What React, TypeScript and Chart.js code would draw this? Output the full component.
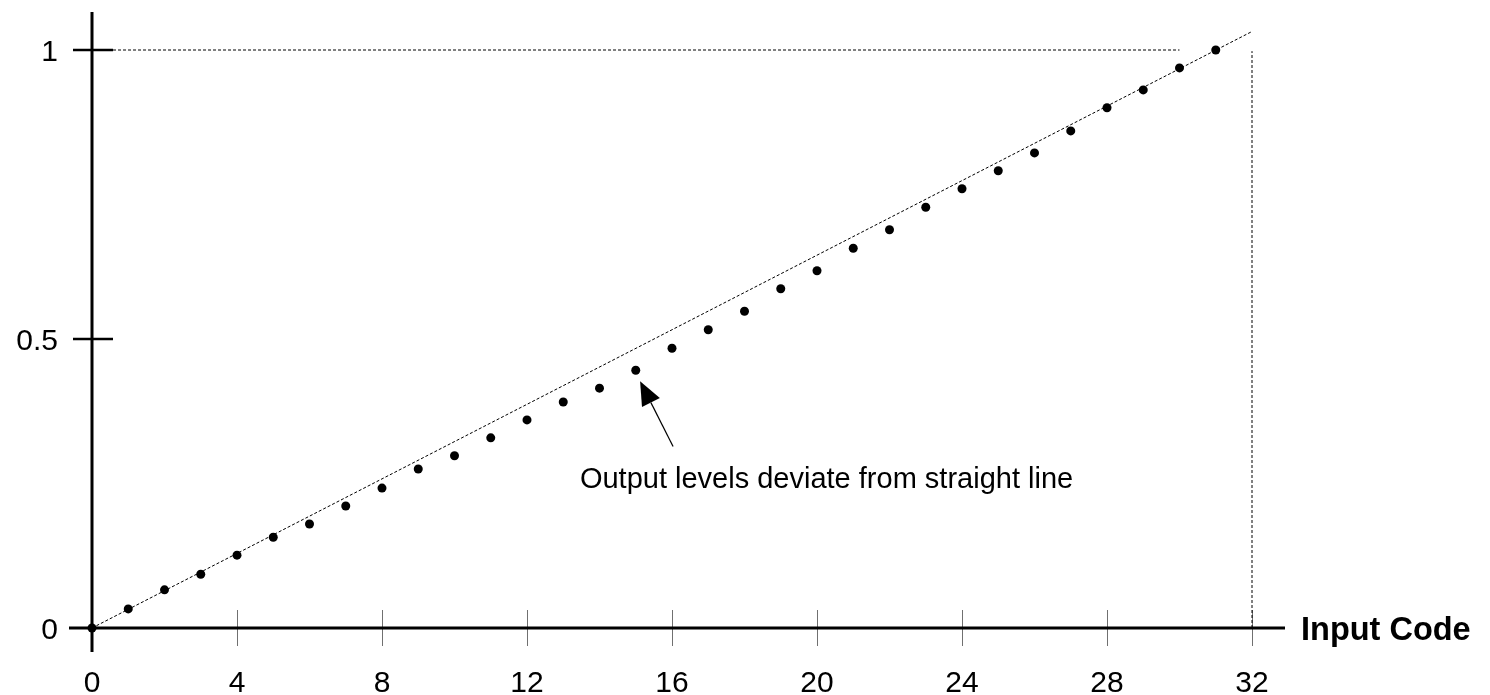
import React, { useEffect, useRef } from "react";
import { Chart, registerables } from "chart.js";

Chart.register(...registerables);

// Data
const inputCodes = [
  0, 1, 2, 3, 4, 5, 6, 7, 8, 9, 10, 11, 12, 13, 14, 15,
  16, 17, 18, 19, 20, 21, 22, 23, 24, 25, 26, 27, 28, 29, 30, 31,
];
const outputLevels = [
  0, 0.033, 0.066, 0.093, 0.126, 0.157, 0.18, 0.211, 0.242, 0.275, 0.298, 0.329,
  0.36, 0.391, 0.415, 0.446, 0.484, 0.516, 0.548, 0.587, 0.618, 0.657, 0.689,
  0.728, 0.76, 0.791, 0.822, 0.86, 0.9, 0.931, 0.969, 1.0,
];
// Ideal straight line (endpoints)
const idealX = [0, 32];
const idealY = [0, 1.032];
// Full-scale reference lines
const fullScaleX = [0.58, 30.0];
const fullScaleY = [1, 1];
const endCodeX = [32, 32];
const endCodeY = [0, 0.998];

const xTickLabels = ["0", "4", "8", "12", "16", "20", "24", "28", "32"];
const yTickValues = [0, 0.5, 1];
const yTickLabels = ["0", "0.5", "1"];
const xAxisTitle = "Input Code";
const annotationText = "Output levels deviate from straight line";

const FONT = '"Liberation Sans", Arial, Helvetica, sans-serif';

const axesPlugin = {
  id: "customAxes",
  beforeDatasetsDraw(chart: any) {
    const ctx = chart.ctx as CanvasRenderingContext2D;
    const xs = chart.scales.x;
    const ys = chart.scales.y;
    const x0 = xs.getPixelForValue(0);
    const y0 = ys.getPixelForValue(0);
    ctx.save();

    // x tick marks (thin grey, crossing the axis)
    ctx.strokeStyle = "#707070";
    ctx.lineWidth = 1;
    xTickLabels.forEach((lab) => {
      const v = Number(lab);
      if (v === 0) return;
      const px = Math.round(xs.getPixelForValue(v)) + 0.5;
      ctx.beginPath();
      ctx.moveTo(px, y0 - 18);
      ctx.lineTo(px, y0 + 18);
      ctx.stroke();
    });

    // y tick marks (thick black)
    ctx.strokeStyle = "#000";
    ctx.lineWidth = 2.5;
    yTickValues.forEach((v) => {
      if (v === 0) return;
      const py = ys.getPixelForValue(v);
      ctx.beginPath();
      ctx.moveTo(x0 - 19, py);
      ctx.lineTo(x0 + 21, py);
      ctx.stroke();
    });

    // axis lines
    ctx.lineWidth = 3;
    ctx.beginPath();
    ctx.moveTo(x0 - 23, y0);
    ctx.lineTo(xs.getPixelForValue(32) + 33, y0);
    ctx.stroke();
    ctx.beginPath();
    ctx.moveTo(x0, ys.getPixelForValue(1) - 38);
    ctx.lineTo(x0, y0 + 24);
    ctx.stroke();

    // tick labels
    ctx.fillStyle = "#000";
    ctx.font = `30px ${FONT}`;
    ctx.textAlign = "center";
    ctx.textBaseline = "alphabetic";
    xTickLabels.forEach((lab) => {
      const px = xs.getPixelForValue(Number(lab));
      ctx.fillText(lab, px, y0 + 64);
    });
    ctx.textAlign = "right";
    yTickValues.forEach((v, i) => {
      const py = ys.getPixelForValue(v);
      ctx.fillText(yTickLabels[i], x0 - 34, py + 10.5);
    });

    // axis title
    ctx.font = `bold 32.5px ${FONT}`;
    ctx.textAlign = "left";
    ctx.fillText(xAxisTitle, xs.getPixelForValue(32) + 49, y0 + 11.5);
    ctx.restore();
  },
  afterDatasetsDraw(chart: any) {
    const ctx = chart.ctx as CanvasRenderingContext2D;
    const xs = chart.scales.x;
    const ys = chart.scales.y;
    ctx.save();
    // annotation arrow
    const tipX = xs.getPixelForValue(15.12);
    const tipY = ys.getPixelForValue(0.427);
    const tailX = xs.getPixelForValue(16.03);
    const tailY = ys.getPixelForValue(0.314);
    const dx = tipX - tailX;
    const dy = tipY - tailY;
    const len = Math.hypot(dx, dy);
    const ux = dx / len;
    const uy = dy / len;
    const headLen = 24;
    const headHalf = 10;
    const bx = tipX - ux * headLen;
    const by = tipY - uy * headLen;
    ctx.strokeStyle = "#000";
    ctx.lineWidth = 1.2;
    ctx.beginPath();
    ctx.moveTo(tailX, tailY);
    ctx.lineTo(bx, by);
    ctx.stroke();
    ctx.fillStyle = "#000";
    ctx.beginPath();
    ctx.moveTo(tipX, tipY);
    ctx.lineTo(bx - uy * headHalf, by + ux * headHalf);
    ctx.lineTo(bx + uy * headHalf, by - ux * headHalf);
    ctx.closePath();
    ctx.fill();

    // annotation text
    ctx.font = `29px ${FONT}`;
    ctx.textAlign = "left";
    ctx.textBaseline = "alphabetic";
    ctx.fillText(annotationText, xs.getPixelForValue(13.46), ys.getPixelForValue(0.243));
    ctx.restore();
  },
};

export default function App() {
  const canvasRef = useRef<HTMLCanvasElement | null>(null);

  useEffect(() => {
    if (!canvasRef.current) return;
    const pts = inputCodes.map((x, i) => ({ x, y: outputLevels[i] }));
    const ideal = idealX.map((x, i) => ({ x, y: idealY[i] }));
    const full = fullScaleX.map((x, i) => ({ x, y: fullScaleY[i] }));
    const endLine = endCodeX.map((x, i) => ({ x, y: endCodeY[i] }));
    const dashedLine = (data: any[], dash: number[]) => ({
      type: "line" as const,
      data,
      showLine: true,
      borderColor: "#000",
      borderWidth: 1,
      borderDash: dash,
      pointRadius: 0,
      fill: false,
      clip: false as any,
    });
    const chart = new Chart(canvasRef.current, {
      type: "scatter",
      data: {
        datasets: [
          dashedLine(ideal, [3, 2]) as any,
          dashedLine(full, [3, 2]) as any,
          dashedLine(endLine, [3, 2]) as any,
          {
            type: "scatter",
            data: pts,
            pointRadius: 4.5,
            pointBackgroundColor: "#000",
            pointBorderColor: "#000",
            pointBorderWidth: 0,
            showLine: false,
            clip: false as any,
          },
        ],
      },
      options: {
        animation: false,
        responsive: false,
        devicePixelRatio: 1,
        layout: { padding: { left: 92, right: 238, top: 50, bottom: 67 } },
        plugins: {
          legend: { display: false },
          tooltip: { enabled: false },
        },
        scales: {
          x: { type: "linear", min: 0, max: 32, display: false },
          y: { type: "linear", min: 0, max: 1, display: false },
        },
      },
      plugins: [axesPlugin],
    });
    return () => chart.destroy();
  }, []);

  return (
    <div style={{ position: "fixed", left: 0, top: 0, width: 1490, height: 695, background: "#fff" }}>
      <canvas ref={canvasRef} width={1490} height={695} style={{ width: 1490, height: 695 }} />
    </div>
  );
}
